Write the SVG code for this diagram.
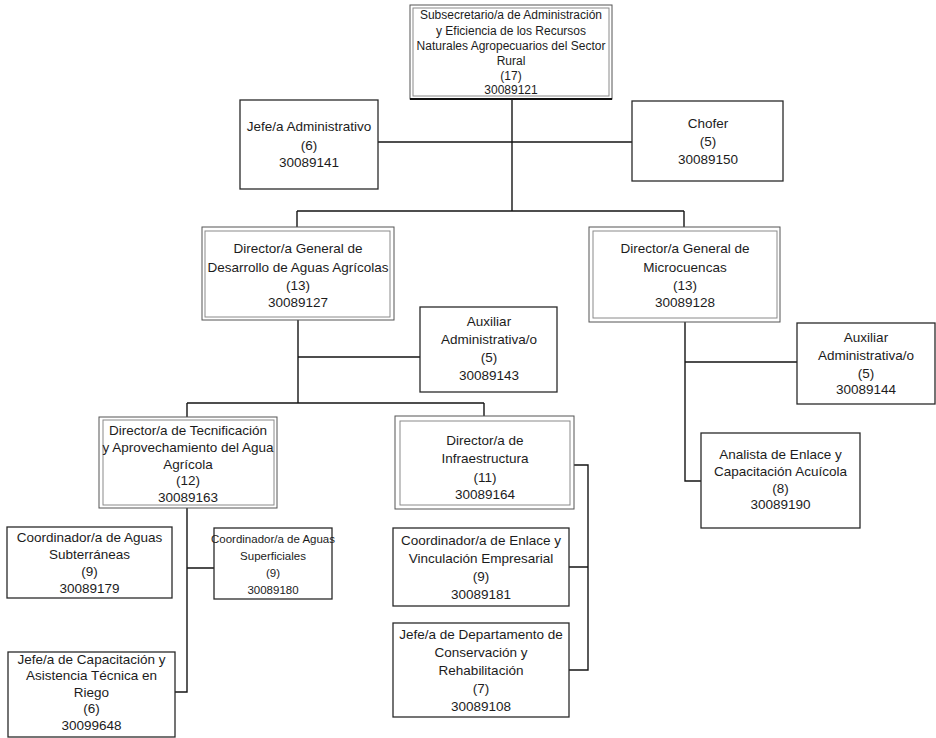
<svg xmlns="http://www.w3.org/2000/svg" width="936" height="738" viewBox="0 0 936 738">
  <style>
    .bg { fill: #ffffff; }
    .box { fill: #ffffff; stroke: #2a2a2a; stroke-width: 1.3; }
    .outer { fill: #ffffff; stroke: #555555; stroke-width: 1; }
    .inner { fill: none; stroke: #8a8a8a; stroke-width: 1; }
    .t { font-family: "Liberation Sans", Arial, sans-serif; font-size: 13.5px; fill: #1c1c1c; text-anchor: middle; }
    .ts { font-family: "Liberation Sans", Arial, sans-serif; font-size: 12px; fill: #1c1c1c; text-anchor: middle; }
    .tn { font-family: "Liberation Sans", Arial, sans-serif; font-size: 11.5px; fill: #1c1c1c; text-anchor: middle; }
    .link { fill: none; stroke: #151515; stroke-width: 1.4; }
  </style>
  <rect class="bg" x="0" y="0" width="936" height="738"/>

  <!-- connectors -->
  <g id="connectors">
    <path class="link" d="M512,99 V211"/>
    <path class="link" d="M378,142 H632"/>
    <path class="link" d="M297,211 H684 M297,211 V227 M684,211 V227"/>
    <path class="link" d="M298,320 V403 M298,357 H420"/>
    <path class="link" d="M187,403 H484 M187,403 V417 M484,403 V416"/>
    <path class="link" d="M685,322 V481 H701 M685,362 H797"/>
    <path class="link" d="M187,508 V692 H175 M187,568 H214"/>
    <path class="link" d="M574,465 H588 V670 H569 M569,567 H588"/>
  </g>

  <!-- Subsecretario/a -->
  <g id="subsecretario">
    <rect class="outer" x="410" y="5" width="202" height="94"/>
    <rect class="inner" x="413" y="8" width="196" height="88"/>
    <path d="M410,99 H612" stroke="#111" stroke-width="2"/>
    <text class="ts" x="511" y="19">Subsecretario/a de Administración</text>
    <text class="ts" x="511" y="35">y Eficiencia de los Recursos</text>
    <text class="ts" x="511" y="50">Naturales Agropecuarios del Sector</text>
    <text class="ts" x="511" y="65">Rural</text>
    <text class="ts" x="511" y="80">(17)</text>
    <text class="ts" x="511" y="94">30089121</text>
  </g>

  <!-- Jefe/a Administrativo -->
  <g id="jefe-administrativo">
    <rect class="box" x="240" y="100" width="138" height="89"/>
    <text class="t" x="309" y="131">Jefe/a Administrativo</text>
    <text class="t" x="309" y="150">(6)</text>
    <text class="t" x="309" y="167">30089141</text>
  </g>

  <!-- Chofer -->
  <g id="chofer">
    <rect class="box" x="632" y="101" width="151" height="80"/>
    <text class="t" x="708" y="128">Chofer</text>
    <text class="t" x="708" y="146">(5)</text>
    <text class="t" x="708" y="164">30089150</text>
  </g>

  <!-- Director/a General de Desarrollo de Aguas Agrícolas -->
  <g id="dg-aguas-agricolas">
    <rect class="outer" x="202" y="227" width="192" height="93"/>
    <rect class="inner" x="205" y="231" width="185" height="86"/>
    <text class="t" x="298" y="253">Director/a General de</text>
    <text class="t" x="298" y="272">Desarrollo de Aguas Agrícolas</text>
    <text class="t" x="298" y="290">(13)</text>
    <text class="t" x="298" y="307">30089127</text>
  </g>

  <!-- Director/a General de Microcuencas -->
  <g id="dg-microcuencas">
    <rect class="outer" x="589" y="227" width="191" height="95"/>
    <rect class="inner" x="593" y="231" width="184" height="87"/>
    <text class="t" x="685" y="253">Director/a General de</text>
    <text class="t" x="685" y="272">Microcuencas</text>
    <text class="t" x="685" y="290">(13)</text>
    <text class="t" x="685" y="307">30089128</text>
  </g>

  <!-- Auxiliar Administrativa/o 30089143 -->
  <g id="auxiliar-143">
    <rect class="box" x="420" y="307" width="137" height="85"/>
    <text class="t" x="489" y="326">Auxiliar</text>
    <text class="t" x="489" y="344">Administrativa/o</text>
    <text class="t" x="489" y="362">(5)</text>
    <text class="t" x="489" y="380">30089143</text>
  </g>

  <!-- Auxiliar Administrativa/o 30089144 -->
  <g id="auxiliar-144">
    <rect class="box" x="797" y="323" width="138" height="81"/>
    <text class="t" x="866" y="342">Auxiliar</text>
    <text class="t" x="866" y="360">Administrativa/o</text>
    <text class="t" x="866" y="378">(5)</text>
    <text class="t" x="866" y="394">30089144</text>
  </g>

  <!-- Director/a de Tecnificación -->
  <g id="dir-tecnificacion">
    <rect class="outer" x="99" y="417" width="178" height="91"/>
    <rect class="inner" x="103" y="420" width="171" height="85"/>
    <text class="t" x="188" y="435">Director/a  de Tecnificación</text>
    <text class="t" x="188" y="452">y Aprovechamiento del Agua</text>
    <text class="t" x="188" y="469">Agrícola</text>
    <text class="t" x="188" y="485">(12)</text>
    <text class="t" x="188" y="502">30089163</text>
  </g>

  <!-- Director/a de Infraestructura -->
  <g id="dir-infraestructura">
    <rect class="outer" x="395" y="416" width="179" height="93"/>
    <rect class="inner" x="400" y="421" width="170" height="84"/>
    <text class="t" x="485" y="445">Director/a de</text>
    <text class="t" x="485" y="463">Infraestructura</text>
    <text class="t" x="485" y="482">(11)</text>
    <text class="t" x="485" y="499">30089164</text>
  </g>

  <!-- Coordinador/a de Aguas Subterráneas -->
  <g id="coord-subterraneas">
    <rect class="box" x="7" y="527" width="165" height="71"/>
    <text class="t" x="89.5" y="542">Coordinador/a de Aguas</text>
    <text class="t" x="89.5" y="559">Subterráneas</text>
    <text class="t" x="89.5" y="576">(9)</text>
    <text class="t" x="89.5" y="593">30089179</text>
  </g>

  <!-- Coordinador/a de Aguas Superficiales -->
  <g id="coord-superficiales">
    <rect class="box" x="214" y="528" width="118" height="71"/>
    <text class="tn" x="273" y="543">Coordinador/a de Aguas</text>
    <text class="tn" x="273" y="560">Superficiales</text>
    <text class="tn" x="273" y="577">(9)</text>
    <text class="tn" x="273" y="594">30089180</text>
  </g>

  <!-- Jefe/a de Capacitación y Asistencia Técnica en Riego -->
  <g id="jefe-capacitacion">
    <rect class="box" x="8" y="652" width="167" height="85"/>
    <text class="t" x="91.5" y="664">Jefe/a de Capacitación y</text>
    <text class="t" x="91.5" y="680">Asistencia Técnica en</text>
    <text class="t" x="91.5" y="697">Riego</text>
    <text class="t" x="91.5" y="713">(6)</text>
    <text class="t" x="91.5" y="730">30099648</text>
  </g>

  <!-- Coordinador/a de Enlace y Vinculación Empresarial -->
  <g id="coord-enlace">
    <rect class="box" x="393" y="528" width="176" height="78"/>
    <text class="t" x="481" y="545">Coordinador/a de Enlace y</text>
    <text class="t" x="481" y="563">Vinculación Empresarial</text>
    <text class="t" x="481" y="581">(9)</text>
    <text class="t" x="481" y="599">30089181</text>
  </g>

  <!-- Jefe/a de Departamento de Conservación y Rehabilitación -->
  <g id="jefe-conservacion">
    <rect class="box" x="393" y="623" width="176" height="94"/>
    <text class="t" x="481" y="639">Jefe/a de Departamento de</text>
    <text class="t" x="481" y="657">Conservación y</text>
    <text class="t" x="481" y="675">Rehabilitación</text>
    <text class="t" x="481" y="693">(7)</text>
    <text class="t" x="481" y="711">30089108</text>
  </g>

  <!-- Analista de Enlace y Capacitación Acuícola -->
  <g id="analista-enlace">
    <rect class="box" x="701" y="433" width="159" height="95"/>
    <text class="t" x="780.5" y="459">Analista de Enlace y</text>
    <text class="t" x="780.5" y="476">Capacitación Acuícola</text>
    <text class="t" x="780.5" y="493">(8)</text>
    <text class="t" x="780.5" y="509">30089190</text>
  </g>
</svg>
